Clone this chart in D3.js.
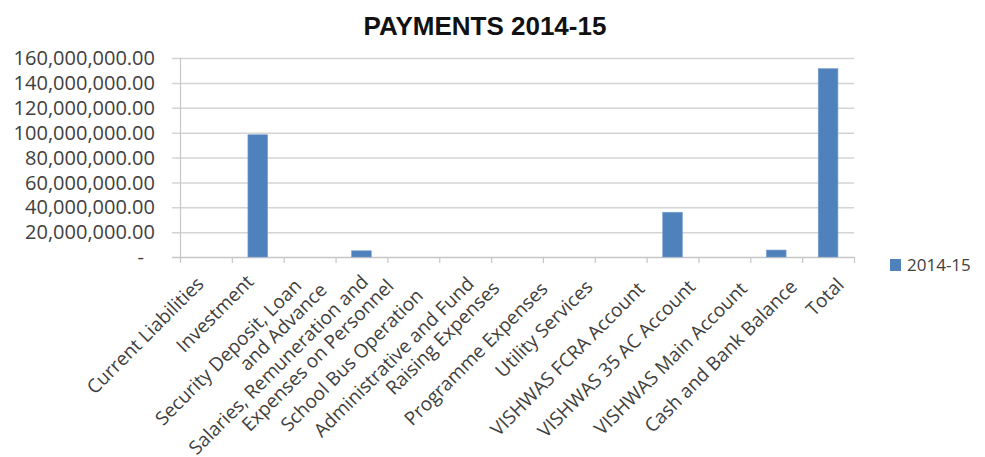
<!DOCTYPE html>
<html lang="en">
<head>
<meta charset="utf-8">
<script src="https://d3js.org/d3.v7.min.js"></script>
<style type="text/css">
body {
	margin: 0;
	background: #fff;
}
.title {
	font: bold 26px "Liberation Sans", Arial, sans-serif;
	fill: #111;
}
.ylab, .xlab, .legend text {
	font-family: "Open Sans", sans-serif;
	fill: #404040;
}
</style>
</head>
<body>
<script type="text/javascript">

// data
var categories = [
	["Current Liabilities"],
	["Investment"],
	["Security Deposit, Loan", "and Advance"],
	["Salaries, Remuneration and", "Expenses on Personnel"],
	["School Bus Operation"],
	["Administrative and Fund", "Raising Expenses"],
	["Programme Expenses"],
	["Utility Services"],
	["VISHWAS  FCRA Account"],
	["VISHWAS  35 AC Account"],
	["VISHWAS  Main Account"],
	["Cash and Bank Balance"],
	["Total"]
];
var values2014 = [0, 98300000, 0, 5000000, 0, 0, 0, 0, 0, 36000000, 0, 5600000, 151400000];
var yTicks = [0, 20000000, 40000000, 60000000, 80000000, 100000000, 120000000, 140000000, 160000000];
var seriesName = "2014-15";
var chartTitle = "PAYMENTS 2014-15";

// where the end of each rotated label sits (offset from tick centre, and y)
var labelDx = [-9, -11, -15, 0, 3, 2, 24, 17, 17, 16, 16, 14, 9];
var labelY = [277, 275, 279, 275, 289, 277, 282, 280, 282, 280, 282, 280, 278];

var width = 985;
var height = 457;
var mLeft = 180, mRight = 854, mTop = 58, mBottom = 257;

var svg = d3.select("body")
	.append("svg")
	.attr("width", width)
	.attr("height", height);

var keys = categories.map(function(d) { return d.join(" "); });

var x = d3.scaleBand()
	.domain(keys)
	.range([mLeft, mRight])
	.padding(0);

var y = d3.scaleLinear()
	.domain([0, 160000000])
	.range([mBottom, mTop]);

var fmt = d3.format(",.2f");

// gridlines
svg.append("g")
	.selectAll("line")
	.data(yTicks)
	.enter()
	.append("line")
	.attr("x1", mLeft - 8)
	.attr("x2", mRight)
	.attr("y1", function(d) { return y(d) + 0.5; })
	.attr("y2", function(d) { return y(d) + 0.5; })
	.attr("stroke", function(d) { return d === 0 ? "#c6c6c6" : "#d4d4d4"; })
	.attr("stroke-width", 1.5);

// y axis line
svg.append("line")
	.attr("x1", mLeft + 0.5).attr("x2", mLeft + 0.5)
	.attr("y1", mTop).attr("y2", mBottom + 4)
	.attr("stroke", "#c6c6c6")
	.attr("stroke-width", 1.2);

// y labels (accounting style, zero shown as dash)
svg.append("g")
	.selectAll("text")
	.data(yTicks)
	.enter()
	.append("text")
	.attr("class", "ylab")
	.attr("x", function(d) { return d === 0 ? 144 : 155; })
	.attr("y", function(d) { return y(d); })
	.attr("dy", "0.36em")
	.attr("text-anchor", "end")
	.style("font-size", "20px")
	.text(function(d) { return d === 0 ? "-" : fmt(d); });

// x ticks at category boundaries
var bounds = keys.map(function(k) { return x(k); }).concat([mRight]);
svg.append("g")
	.selectAll("line")
	.data(bounds)
	.enter()
	.append("line")
	.attr("x1", function(d) { return d + 0.5; })
	.attr("x2", function(d) { return d + 0.5; })
	.attr("y1", mBottom)
	.attr("y2", mBottom + 6)
	.attr("stroke", "#c6c6c6")
	.attr("stroke-width", 1.2);

// bars
var bw = x.bandwidth() * 0.38;
svg.append("g")
	.selectAll("rect")
	.data(values2014)
	.enter()
	.append("rect")
	.attr("x", function(d, i) { return x(keys[i]) + (x.bandwidth() - bw) / 2; })
	.attr("y", function(d) { return y(d); })
	.attr("width", bw)
	.attr("height", function(d) { return mBottom - y(d); })
	.attr("fill", "#4f81bd")
	.attr("stroke", "#7aa0d0")
	.attr("stroke-width", 0.6);

// category labels, rotated; second line sits below and runs a bit further
var lab = svg.append("g")
	.selectAll("g")
	.data(categories)
	.enter()
	.append("g")
	.attr("transform", function(d, i) {
		var cx = x(keys[i]) + x.bandwidth() / 2 + labelDx[i] + 8;
		return "translate(" + cx + "," + (labelY[i] + 8) + ") rotate(-45)";
	});

lab.selectAll("text")
	.data(function(d) { return d; })
	.enter()
	.append("text")
	.attr("class", "xlab")
	.attr("text-anchor", "end")
	.attr("x", function(d, i) { return i * 15; })
	.attr("y", function(d, i) { return i * 21; })
	.style("font-size", "19px")
	.text(function(d) { return d; });

// title
svg.append("text")
	.attr("class", "title")
	.attr("x", 485)
	.attr("y", 35)
	.attr("text-anchor", "middle")
	.text(chartTitle);

// legend
var legend = svg.append("g").attr("class", "legend");
legend.append("rect")
	.attr("x", 890)
	.attr("y", 259)
	.attr("width", 11)
	.attr("height", 12)
	.attr("fill", "#4f81bd");
legend.append("text")
	.attr("x", 907)
	.attr("y", 265)
	.attr("dy", "0.36em")
	.style("font-size", "17px")
	.text(seriesName);

</script>
</body>
</html>
